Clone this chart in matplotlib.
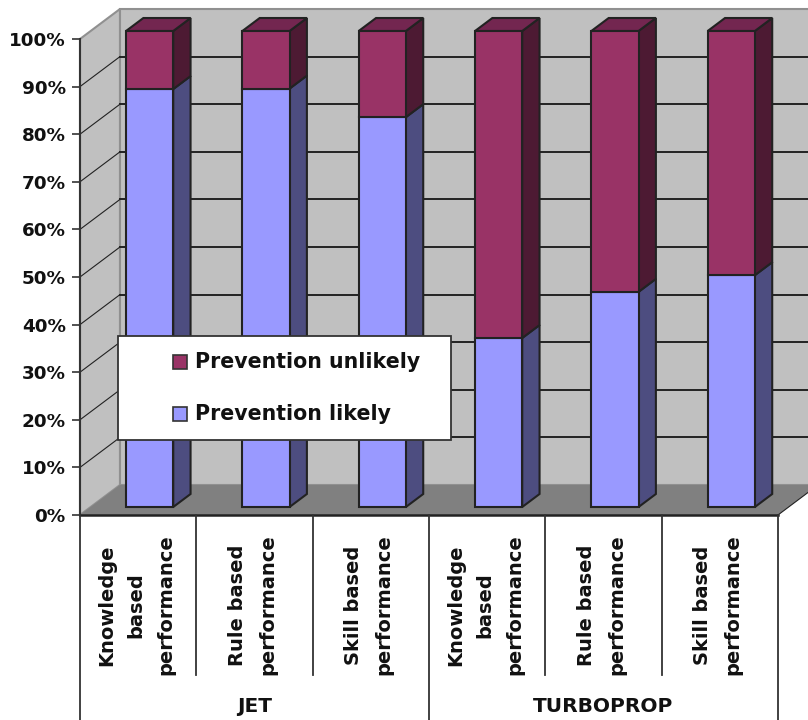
import numpy as np
from matplotlib import pyplot as plt
from matplotlib.patches import Polygon, Rectangle

categories = ["Knowledge\nbased\nperformance", "Rule based\nperformance", "Skill based\nperformance",
              "Knowledge\nbased\nperformance", "Rule based\nperformance", "Skill based\nperformance"]
groups = ["JET", "TURBOPROP"]
likely = [87.8, 87.9, 81.9, 35.5, 45.2, 48.7]
unlikely = [12.2, 12.1, 18.1, 64.5, 54.8, 51.3]
yticks = [0, 10, 20, 30, 40, 50, 60, 70, 80, 90, 100]

W, H = 808, 720
# one axes over the whole figure, unit = one category / one percent
PX_X = 116.33
PX_Y = 4.76
DX = 40 / PX_X
DY = 30 / PX_Y
LINE = '#222222'

plt.rcParams['font.family'] = 'DejaVu Sans'
plt.rcParams['font.weight'] = 'bold'

fig = plt.figure(figsize=(W / 100, H / 100), dpi=100)
ax = fig.add_axes([0, 0, 1, 1])
ax.set_xlim(-80 / PX_X, (W - 80) / PX_X)
ax.set_ylim((515 - H) / PX_Y, 515 / PX_Y)


def pt(x, y, d=0.0):
    # d is depth: 0 front of the floor, 1 back wall
    return (x + d * DX, y + d * DY)


def face(points, color, z, edge=LINE, lw=1.5):
    ax.add_patch(Polygon(points, closed=True, facecolor=color, edgecolor=edge, linewidth=lw,
                         joinstyle='miter', zorder=z))


# walls and floor
face([pt(0, 0, 0), pt(0, 100, 0), pt(0, 100, 1), pt(0, 0, 1)], '#c0c0c0', 1, edge='#909090', lw=1.5)
face([pt(0, 0, 1), pt(0, 100, 1), pt(7, 100, 1), pt(7, 0, 1)], '#c0c0c0', 1, edge='#909090', lw=1.5)
face([pt(0, 0, 0), pt(6, 0, 0), pt(6, 0, 1), pt(0, 0, 1)], '#808080', 2, edge='none', lw=0)
ax.plot(*zip(pt(6, 0, 0), pt(6, 0, 1)), color=LINE, lw=0.8, zorder=2)

# gridlines on the left and back wall
for v in yticks[1:-1]:
    a, b, c = pt(0, v, 0), pt(0, v, 1), pt(7, v, 1)
    ax.plot([a[0], b[0]], [a[1], b[1]], color=LINE, lw=0.8, zorder=2)
    ax.plot([b[0], c[0]], [b[1], c[1]], color=LINE, lw=1.4, zorder=2)

# stacked 3d bars
d0, d1 = 8 / 30, 21 / 30
half = 23.6 / PX_X
for i in range(len(categories)):
    c = i + 0.5 + 0.8 / PX_X
    l, r = c - half, c + half
    top = likely[i] + unlikely[i]
    z = 5 + i
    face([pt(r, 0, d0), pt(r, likely[i], d0), pt(r, likely[i], d1), pt(r, 0, d1)], '#4d4d80', z)
    face([pt(r, likely[i], d0), pt(r, top, d0), pt(r, top, d1), pt(r, likely[i], d1)], '#4d1a33', z)
    face([pt(l, top, d0), pt(r, top, d0), pt(r, top, d1), pt(l, top, d1)], '#732650', z)
    face([pt(l, 0, d0), pt(r, 0, d0), pt(r, likely[i], d0), pt(l, likely[i], d0)], '#9999ff', z)
    face([pt(l, likely[i], d0), pt(r, likely[i], d0), pt(r, top, d0), pt(l, top, d0)], '#993366', z)

# value axis
for s in ['top', 'right', 'bottom']:
    ax.spines[s].set_visible(False)
ax.spines['left'].set_position(('data', 0))
ax.spines['left'].set_bounds(0, 100)
ax.spines['left'].set_color('#333333')
ax.spines['left'].set_linewidth(1.5)
ax.set_axisbelow(False)
ax.set_xticks([])
ax.set_yticks(yticks)
ax.set_yticklabels([str(v) + '%' for v in yticks], fontsize=13.2, color='#111111')
ax.tick_params(axis='y', length=5.8, width=1.2, color='#333333', pad=4.5)
ax.patch.set_visible(False)

# multi level category axis under the floor
y_low = (515 - 675) / PX_Y
y_end = (515 - H) / PX_Y
ax.plot([0, 6], [0, 0], color=LINE, lw=1.8, zorder=3)
for x in range(7):
    ax.plot([x, x], [0, y_end if x % 3 == 0 else y_low], color='#333333', lw=1.3, zorder=3)
for i, name in enumerate(categories):
    ax.text(i + 0.5 - 2 / PX_X, (515 - 605) / PX_Y, name, rotation=90, ha='center', va='center',
            fontsize=14, linespacing=1.72, multialignment='center', color='#111111')
for i, name in enumerate(groups):
    ax.text(i * 3 + 1.5, (515 - 706) / PX_Y, name, ha='center', va='center', fontsize=14.5, color='#111111')

# legend box
x0, x1 = (118 - 80) / PX_X, (451 - 80) / PX_X
y0, y1 = (515 - 440) / PX_Y, (515 - 336) / PX_Y
ax.add_patch(Rectangle((x0, y0), x1 - x0, y1 - y0, facecolor='white', edgecolor='#333333', lw=1.3, zorder=20))
box_w, box_h = 14 / PX_X, 14 / PX_Y
for label, color, y_px in [("Prevention unlikely", '#993366', 362), ("Prevention likely", '#9999ff', 414)]:
    ym = (515 - y_px) / PX_Y
    ax.add_patch(Rectangle(((173 - 80) / PX_X, ym - box_h / 2), box_w, box_h, facecolor=color,
                           edgecolor='#333333', lw=1.2, zorder=21))
    ax.text((195 - 80) / PX_X, ym, label, ha='left', va='center', fontsize=14.8, color='#111111', zorder=21)

fig.savefig('out.png', dpi=100)
